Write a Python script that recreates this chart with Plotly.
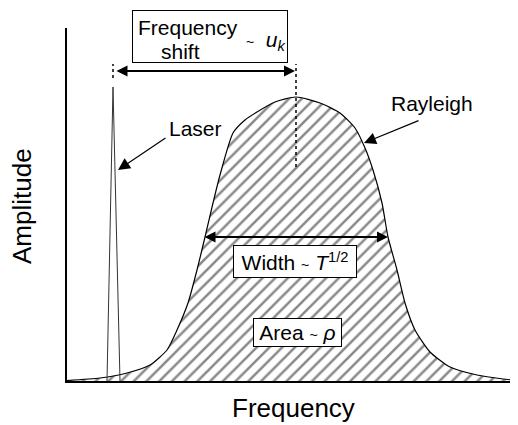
import plotly.graph_objects as go

# Rayleigh spectrum (arbitrary units)
rayleigh_freq = [0, 33, 60, 83, 100, 110, 121, 130, 138, 146, 153, 166, 178, 190, 208, 229,
                 253, 273, 288, 298, 306, 315, 321, 330, 338, 348, 363, 383, 410, 436, 451]
rayleigh_amp = [0.5, 3, 8, 16, 31, 51, 78, 111, 144, 178, 206, 248, 261, 269, 279, 284,
                278, 268, 253, 233, 211, 178, 144, 111, 78, 51, 29, 14, 6, 2, 0.5]

# Laser line (narrow peak)
laser_freq = [40, 46, 53]
laser_amp = [0, 294, 0]

# Annotation anchors (data units)
laser_peak_freq = 46
rayleigh_peak_freq = 229
halfwidth_left, halfwidth_right, halfwidth_amp = 136, 321, 144

X_MAX, Y_MAX = 451, 353
FONT = "Liberation Sans, Arial, sans-serif"


def paper_x(v):
    return v / X_MAX


def paper_y(v):
    return v / Y_MAX


fig = go.Figure()
fig.add_trace(go.Scatter(
    x=rayleigh_freq, y=rayleigh_amp, mode="lines",
    line=dict(color="black", width=1.2, shape="spline", smoothing=0.6),
    fill="tozeroy", fillcolor="white",
    fillpattern=dict(shape="/", size=9, solidity=0.28, fgcolor="#111111", bgcolor="white"),
    hoverinfo="skip", showlegend=False,
))
fig.add_trace(go.Scatter(
    x=laser_freq, y=laser_amp, mode="lines",
    line=dict(color="#333333", width=1),
    hoverinfo="skip", showlegend=False,
))
# dotted guide lines for frequency shift
fig.add_trace(go.Scatter(
    x=[laser_peak_freq, laser_peak_freq], y=[303, 317], mode="lines",
    line=dict(color="black", width=1.5, dash="dot"), hoverinfo="skip", showlegend=False, cliponaxis=False,
))
fig.add_trace(go.Scatter(
    x=[rayleigh_peak_freq, rayleigh_peak_freq], y=[214, 317], mode="lines",
    line=dict(color="black", width=1.5, dash="dot"), hoverinfo="skip", showlegend=False, cliponaxis=False,
))

ann = []
tilde = "<span style='font-size:14px'>~</span>"
txt = dict(family=FONT, size=21, color="black")
C = dict(xanchor="center", yanchor="middle")

# Frequency shift double arrow
ann.append(dict(x=228, y=310, ax=48, ay=310, xref="x", yref="y", axref="x", ayref="y",
                text="", showarrow=True, arrowhead=2, arrowside="end+start",
                arrowsize=1.1, arrowwidth=2, arrowcolor="black", standoff=0, startstandoff=0))
# Frequency shift box
ann.append(dict(x=paper_x(143), y=paper_y(344.5), xref="paper", yref="paper", text="",
                showarrow=False, width=154, height=51, bordercolor="black", borderwidth=1,
                borderpad=0, bgcolor="white", **C))
ann.append(dict(x=paper_x(120.5), y=paper_y(354), xref="paper", yref="paper", text="Frequency",
                showarrow=False, font=txt, **C))
ann.append(dict(x=paper_x(113), y=paper_y(329), xref="paper", yref="paper", text="shift",
                showarrow=False, font=txt, **C))
ann.append(dict(x=paper_x(199), y=paper_y(340), xref="paper", yref="paper",
                text=tilde + "  <i>u</i><sub><i>k</i></sub>", showarrow=False, font=txt, **C))

# Width double arrow
ann.append(dict(x=halfwidth_right, y=halfwidth_amp, ax=halfwidth_left, ay=halfwidth_amp,
                xref="x", yref="y", axref="x", ayref="y",
                text="", showarrow=True, arrowhead=2, arrowside="end+start",
                arrowsize=1.1, arrowwidth=2, arrowcolor="black", standoff=0, startstandoff=0))
ann.append(dict(x=228, y=119.5, xref="x", yref="y",
                text="Width " + tilde + " <i>T</i><sup>1/2</sup>", showarrow=False,
                width=122, height=31, bordercolor="black", borderwidth=1, borderpad=0,
                bgcolor="white", font=txt, **C))
ann.append(dict(x=230.5, y=48.5, xref="x", yref="y",
                text="Area " + tilde + " <i>ρ</i>", showarrow=False,
                width=87, height=27, bordercolor="black", borderwidth=1, borderpad=0,
                bgcolor="white", font=txt, **C))

# Laser label + arrow
ann.append(dict(x=128.5, y=253, xref="x", yref="y", text="Laser", showarrow=False, font=txt, **C))
ann.append(dict(x=51, y=211, ax=100, ay=244, xref="x", yref="y", axref="x", ayref="y",
                text="", showarrow=True, arrowhead=2, arrowsize=2, arrowwidth=1.2,
                arrowcolor="black", standoff=0))
# Rayleigh label + arrow
ann.append(dict(x=365, y=278, xref="x", yref="y", text="Rayleigh", showarrow=False, font=txt, **C))
ann.append(dict(x=297, y=238, ax=353, ay=261, xref="x", yref="y", axref="x", ayref="y",
                text="", showarrow=True, arrowhead=2, arrowsize=2, arrowwidth=1.2,
                arrowcolor="black", standoff=0))

# Axis titles
ann.append(dict(x=paper_x(226), y=paper_y(-27), xref="paper", yref="paper", text="Frequency",
                showarrow=False, font=dict(family=FONT, size=26, color="black"), **C))
ann.append(dict(x=paper_x(-45), y=paper_y(175), xref="paper", yref="paper", text="Amplitude",
                showarrow=False, textangle=-90, font=dict(family=FONT, size=26, color="black"), **C))

# page body has an 8px margin: shrink figure so the plot area lands where the reference has it
fig.update_layout(
    width=510, height=417,
    margin=dict(l=59, r=0, t=20, b=44),
    paper_bgcolor="white", plot_bgcolor="white",
    xaxis=dict(range=[0, X_MAX], showline=True, linecolor="black", linewidth=1.5,
               showgrid=False, zeroline=False, showticklabels=False, ticks="", fixedrange=True),
    yaxis=dict(range=[0, Y_MAX], showline=True, linecolor="black", linewidth=1.5,
               showgrid=False, zeroline=False, showticklabels=False, ticks="", fixedrange=True),
    annotations=ann,
    showlegend=False,
)

fig.write_html("out.html", config={"displayModeBar": False})
